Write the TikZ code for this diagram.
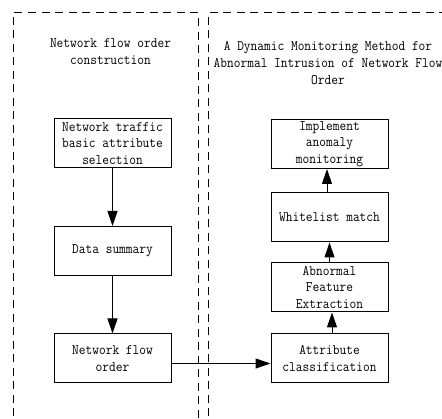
\documentclass[tikz,border=0pt]{standalone}
\usepackage{fontspec}
\setmonofont{Latin Modern Mono}[FakeStretch=0.9]
\usetikzlibrary{arrows.meta}
\tikzset{
  dashbox/.style={line width=1pt, dash pattern=on 8pt off 5.5pt},
  procbox/.style={draw, line width=1pt, minimum width=117pt, minimum height=49pt, inner sep=0pt, align=center, font=\ttfamily\fontsize{14.5}{16.7}\selectfont},
  titletext/.style={align=center, inner sep=0pt, font=\ttfamily\fontsize{14.5}{16.7}\selectfont},
  flow/.style={line width=1pt, -{Triangle[width=10pt,length=15pt]}}
}
\begin{document}
\begin{tikzpicture}[x=1pt,y=-1pt]
\useasboundingbox (0,0) rectangle (442,419);
\clip (0,0) rectangle (442,419);
\fill[white] (0,0) rectangle (442,419);
\draw[dashbox] (13,430) -- (13,13) -- (198,13) -- (198,430);
\draw[dashbox] (208,430) -- (208,13) -- (450,13);

\node[titletext] (tl) at (110.5,51.5) {Network flow order\\construction};
\node[titletext] (tr) at (328,63) {A Dynamic Monitoring Method for\\Abnormal Intrusion of Network Flow\\Order};

\node[procbox] (a1) at (112.5,143.5) {Network traffic\\basic attribute\\selection};
\node[procbox] (a2) at (112.5,251) {Data summary};
\node[procbox] (a3) at (112.5,358.5) {Network flow\\order};

\node[procbox] (b1) at (329.5,144) {Implement\\anomaly\\monitoring};
\node[procbox] (b2) at (329.5,217.5) {Whitelist match};
\node[procbox] (b3) at (329.5,287.5) {Abnormal\\Feature\\Extraction};
\node[procbox] (b4) at (329.5,358.5) {Attribute\\classification};

\draw[flow] (a1) -- (a2);
\draw[flow] (a2) -- (a3);
\draw[flow] ([yshift=-5pt]a3.east) -- ([yshift=-5pt]b4.west);
\draw[flow] ([xshift=2.5pt]b4.north) -- ([xshift=2.5pt]b3.south);
\draw[flow] (b3) -- (b2);
\draw[flow] ([xshift=-2.5pt]b2.north) -- ([xshift=-2.5pt]b1.south);
\end{tikzpicture}
\end{document}
